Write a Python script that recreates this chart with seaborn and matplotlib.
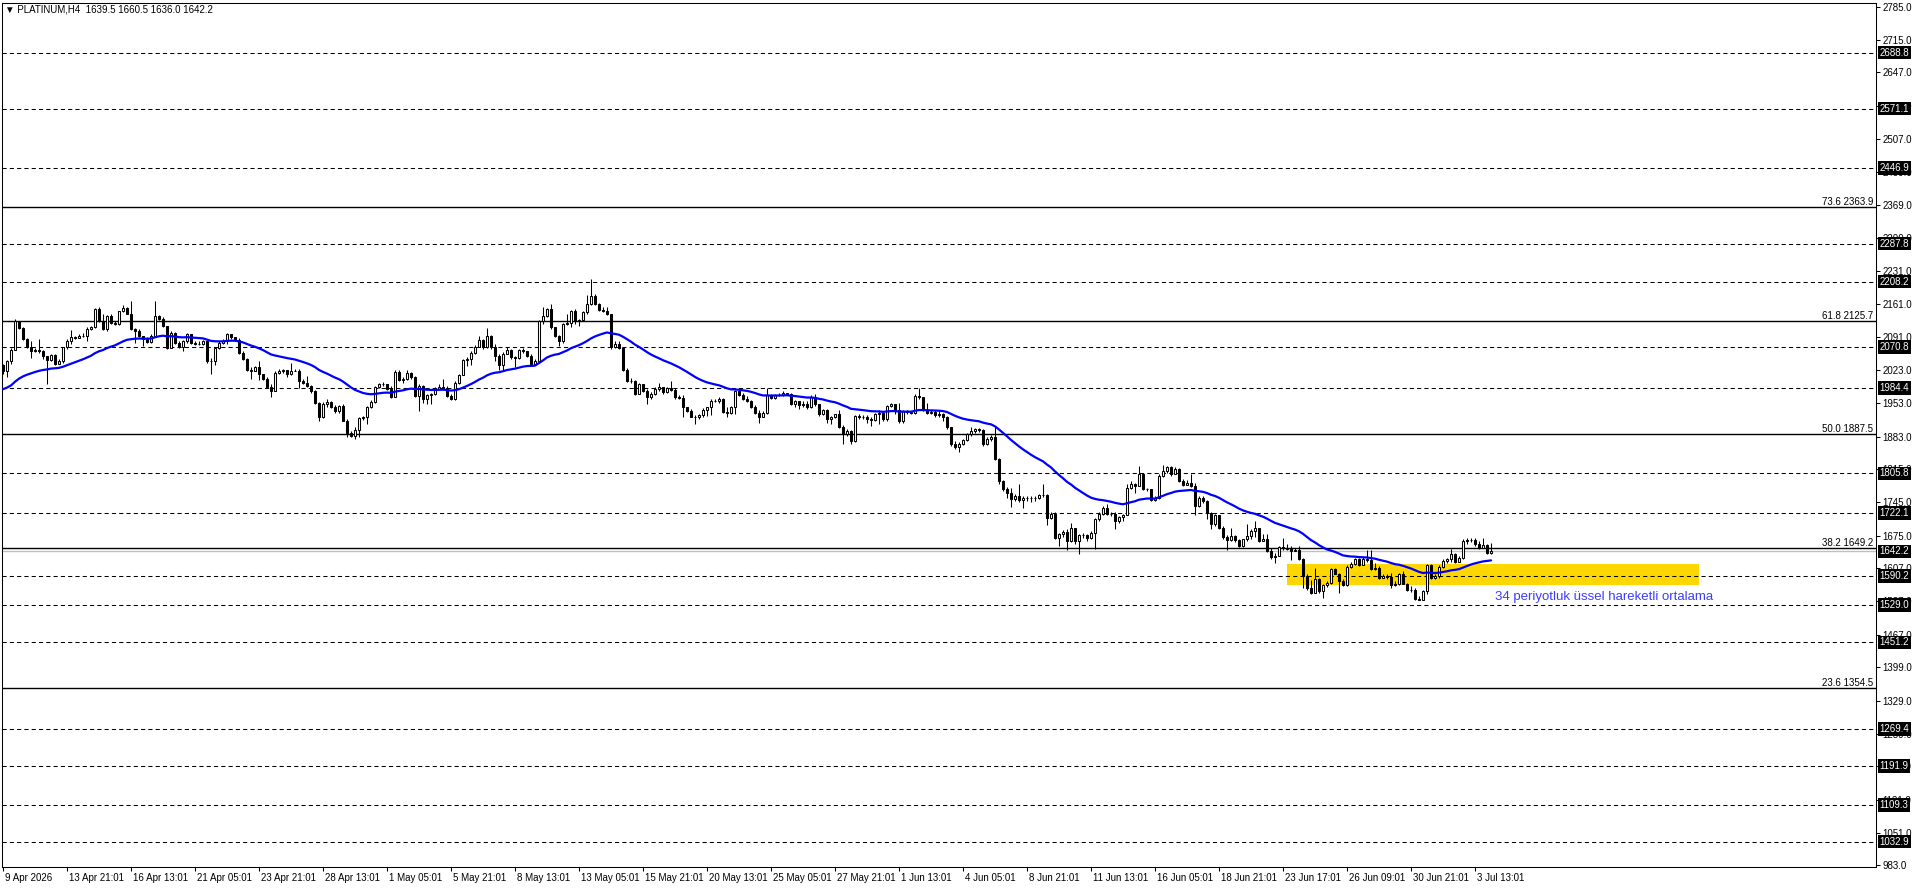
import numpy as np
import pandas as pd
import matplotlib
matplotlib.use("Agg")
import matplotlib.pyplot as plt
import matplotlib.transforms as mtransforms
from matplotlib.patches import Rectangle
import seaborn as sns

# ---------------- data ----------------
symbol = "PLATINUM"
timeframe = "H4"
first_open = 2033.0

close = [
    2021, 2041, 2065, 2126, 2111, 2088, 2071, 2063, 2064, 2062,
    2052, 2043, 2055, 2036, 2042, 2070, 2084, 2091, 2090, 2094,
    2094, 2108, 2113, 2150, 2126, 2108, 2135, 2122, 2119, 2146,
    2153, 2141, 2108, 2105, 2094, 2088, 2082, 2094, 2136, 2129,
    2115, 2069, 2101, 2080, 2070, 2084, 2098, 2080, 2077, 2078,
    2083, 2041, 2042, 2069, 2080, 2084, 2098, 2091, 2085, 2059,
    2045, 2022, 2021, 2028, 2014, 2003, 1987, 1978, 2017, 2021,
    2023, 2015, 2021, 2020, 2000, 1996, 1989, 1978, 1954, 1924,
    1951, 1956, 1944, 1936, 1948, 1916, 1891, 1884, 1896, 1922,
    1923, 1944, 1956, 1986, 1993,
    1993, 1982, 1966, 2019, 2001, 2003, 2017, 2007, 1968, 1990,
    1962, 1971, 1972, 1982, 1986, 1985, 1968, 1962, 1996, 2013,
    2043, 2045, 2059, 2071, 2085, 2070, 2094, 2070, 2052, 2033,
    2057, 2064, 2049, 2048, 2064, 2063, 2052, 2035, 2042, 2125,
    2136, 2150, 2112, 2093, 2083, 2120, 2122, 2147, 2126, 2127,
    2145, 2161, 2178, 2161, 2148, 2146, 2140, 2070, 2078, 2069,
    2022, 2000, 1999, 1973, 1993, 1979, 1965, 1973, 1982, 1986,
    1976, 1985, 1980, 1965, 1964, 1944, 1937, 1924, 1923, 1929,
    1938, 1944, 1958, 1957, 1961, 1935, 1933, 1945, 1978, 1971,
    1962, 1958, 1945, 1933,
    1923, 1932, 1971, 1964, 1970, 1971, 1975, 1973, 1951, 1957,
    1950, 1952, 1944, 1966, 1951, 1930, 1938, 1920, 1924, 1930,
    1903, 1888, 1895, 1873, 1926, 1923, 1924, 1919, 1917, 1931,
    1933, 1920, 1947, 1951, 1938, 1916, 1936, 1934, 1933, 1968,
    1965, 1938, 1933, 1935, 1929, 1931, 1924, 1902, 1867, 1860,
    1868, 1875, 1888, 1894, 1898, 1896, 1867, 1877, 1882, 1835,
    1790, 1772, 1765, 1751, 1758, 1749, 1754, 1755, 1754, 1755,
    1761, 1760, 1713, 1721, 1671, 1678, 1682, 1664, 1691, 1663,
    1677, 1676, 1671, 1681, 1709, 1721, 1734, 1721, 1720, 1706,
    1714, 1719,
    1776, 1784, 1779, 1805, 1772, 1773, 1749, 1754, 1800, 1811,
    1819, 1804, 1815, 1790, 1782, 1786, 1779, 1737, 1755, 1747,
    1723, 1699, 1719, 1691, 1672, 1665, 1674, 1665, 1653, 1667,
    1675, 1685, 1691, 1664, 1667, 1643, 1630, 1632, 1651, 1649,
    1646, 1643, 1645, 1625, 1590, 1566, 1555, 1583, 1559, 1572,
    1576, 1604, 1595, 1580, 1571, 1609, 1616, 1625, 1614, 1625,
    1623, 1604, 1607, 1587, 1590, 1588, 1571, 1574, 1595, 1574,
    1562, 1560, 1543, 1541, 1558, 1614, 1587, 1591, 1609, 1621,
    1625, 1636, 1620, 1628, 1664, 1665, 1666, 1657, 1650, 1656,
    1639.5, 1642.2,
]

high = [
    2035, 2043, 2069, 2130, 2126, 2113, 2089, 2083, 2069, 2087,
    2064, 2048, 2056, 2056, 2045, 2071, 2087, 2106, 2094, 2098,
    2101, 2113, 2115, 2153, 2154, 2140, 2138, 2140, 2126, 2147,
    2159, 2154, 2168, 2111, 2108, 2094, 2092, 2098, 2168, 2138,
    2133, 2115, 2105, 2103, 2084, 2085, 2101, 2099, 2084, 2084,
    2085, 2084, 2048, 2071, 2083, 2087, 2101, 2099, 2092, 2089,
    2063, 2048, 2029, 2031, 2042, 2015, 2007, 1993, 2020, 2024,
    2025, 2022, 2038, 2024, 2024, 2003, 2011, 1991, 1980, 1956,
    1955, 1962, 1958, 1949, 1950, 1951, 1919, 1895, 1902, 1924,
    1926, 1948, 1959, 1990, 1996,
    1998, 1994, 1990, 2022, 2022, 2007, 2022, 2019, 2010, 1993,
    1992, 1973, 1975, 1986, 1994, 2003, 1990, 1973, 1999, 2015,
    2045, 2049, 2063, 2076, 2094, 2087, 2111, 2097, 2077, 2056,
    2060, 2071, 2066, 2052, 2066, 2069, 2060, 2057, 2045, 2127,
    2154, 2153, 2162, 2113, 2097, 2122, 2140, 2148, 2150, 2129,
    2147, 2181, 2213, 2182, 2164, 2155, 2155, 2141, 2083, 2083,
    2071, 2026, 2006, 2001, 1996, 1994, 1982, 1976, 1986, 1996,
    1987, 1987, 2000, 1985, 1971, 1971, 1945, 1940, 1929, 1931,
    1943, 1945, 1961, 1961, 1966, 1963, 1945, 1948, 1980, 1978,
    1975, 1968, 1959, 1949,
    1938, 1937, 1985, 1972, 1973, 1975, 1979, 1975, 1975, 1959,
    1958, 1957, 1958, 1971, 1973, 1952, 1940, 1940, 1926, 1931,
    1938, 1908, 1898, 1896, 1929, 1930, 1929, 1929, 1924, 1933,
    1938, 1934, 1950, 1953, 1952, 1954, 1938, 1938, 1937, 1972,
    1985, 1966, 1954, 1938, 1938, 1936, 1933, 1926, 1903, 1873,
    1871, 1878, 1891, 1902, 1901, 1901, 1898, 1881, 1887, 1902,
    1838, 1791, 1777, 1776, 1762, 1783, 1758, 1759, 1758, 1758,
    1763, 1783, 1762, 1724, 1724, 1681, 1686, 1688, 1702, 1688,
    1679, 1681, 1678, 1684, 1713, 1724, 1737, 1742, 1724, 1724,
    1717, 1721,
    1783, 1789, 1786, 1821, 1807, 1776, 1772, 1758, 1804, 1823,
    1822, 1821, 1819, 1818, 1793, 1791, 1805, 1786, 1758, 1758,
    1749, 1725, 1721, 1705, 1695, 1676, 1691, 1677, 1668, 1669,
    1700, 1688, 1706, 1692, 1678, 1679, 1649, 1639, 1653, 1670,
    1657, 1653, 1650, 1653, 1628, 1594, 1581, 1608, 1586, 1574,
    1580, 1608, 1607, 1597, 1583, 1614, 1619, 1629, 1628, 1630,
    1644, 1644, 1618, 1611, 1595, 1595, 1597, 1580, 1597, 1600,
    1576, 1569, 1565, 1548, 1560, 1616, 1616, 1594, 1614, 1625,
    1629, 1646, 1639, 1632, 1668, 1670, 1671, 1670, 1663, 1671,
    1658, 1660.5,
]

low = [
    2014, 2007, 2035, 2065, 2108, 2085, 2069, 2048, 2060, 2059,
    2045, 1994, 2042, 2034, 2035, 2038, 2067, 2078, 2087, 2089,
    2091, 2084, 2106, 2111, 2124, 2106, 2105, 2120, 2117, 2118,
    2144, 2140, 2106, 2080, 2092, 2073, 2080, 2080, 2092, 2127,
    2113, 2067, 2069, 2078, 2068, 2062, 2080, 2078, 2075, 2076,
    2076, 2038, 2014, 2034, 2066, 2077, 2078, 2087, 2083, 2057,
    2043, 2020, 2003, 2020, 2001, 2001, 1986, 1965, 1978, 2015,
    2017, 2007, 2013, 2020, 1985, 1994, 1987, 1975, 1952, 1915,
    1922, 1944, 1943, 1933, 1933, 1915, 1881, 1882, 1877, 1881,
    1917, 1909, 1943, 1954, 1985,
    1989, 1980, 1964, 1966, 1999, 1996, 2002, 2004, 1966, 1937,
    1954, 1952, 1952, 1971, 1982, 1982, 1966, 1959, 1959, 1994,
    2013, 2031, 2034, 2056, 2071, 2066, 2069, 2066, 2041, 2022,
    2022, 2056, 2045, 2028, 2045, 2059, 2050, 2031, 2034, 2038,
    2119, 2134, 2108, 2091, 2073, 2080, 2118, 2113, 2120, 2115,
    2126, 2141, 2158, 2158, 2146, 2144, 2138, 2066, 2069, 2066,
    2020, 1997, 1996, 1971, 1973, 1976, 1952, 1962, 1971, 1978,
    1973, 1975, 1978, 1962, 1961, 1923, 1934, 1923, 1909, 1919,
    1925, 1927, 1929, 1955, 1953, 1933, 1923, 1930, 1930, 1968,
    1959, 1956, 1943, 1931,
    1912, 1929, 1931, 1961, 1962, 1968, 1969, 1971, 1949, 1945,
    1940, 1944, 1940, 1943, 1948, 1927, 1929, 1912, 1909, 1922,
    1901, 1867, 1885, 1868, 1871, 1919, 1919, 1912, 1906, 1915,
    1910, 1916, 1915, 1944, 1930, 1912, 1912, 1930, 1930, 1931,
    1962, 1936, 1930, 1930, 1924, 1923, 1916, 1899, 1864, 1857,
    1850, 1866, 1873, 1885, 1891, 1892, 1864, 1866, 1873, 1833,
    1783, 1769, 1755, 1735, 1747, 1745, 1734, 1748, 1745, 1747,
    1752, 1756, 1698, 1710, 1667, 1653, 1672, 1644, 1661, 1657,
    1637, 1671, 1664, 1667, 1647, 1706, 1719, 1719, 1716, 1689,
    1702, 1705,
    1749, 1772, 1765, 1779, 1770, 1769, 1747, 1748, 1751, 1798,
    1807, 1801, 1807, 1787, 1779, 1783, 1777, 1718, 1735, 1744,
    1709, 1690, 1696, 1688, 1669, 1644, 1664, 1662, 1651, 1651,
    1664, 1669, 1672, 1661, 1664, 1640, 1627, 1618, 1632, 1645,
    1644, 1623, 1643, 1623, 1566, 1562, 1553, 1555, 1555, 1545,
    1567, 1574, 1594, 1555, 1569, 1570, 1607, 1614, 1611, 1623,
    1620, 1602, 1602, 1585, 1587, 1585, 1566, 1569, 1572, 1573,
    1559, 1557, 1540, 1539, 1545, 1553, 1584, 1583, 1586, 1608,
    1618, 1620, 1618, 1623, 1627, 1658, 1662, 1654, 1648, 1651,
    1637, 1636,
]

ema_period = 34
ema_seed = 1980.0

xtick_bars = [0, 16, 32, 48, 64, 80, 96, 112, 128, 144, 160, 176,
              192, 208, 224, 240, 256, 272, 288, 304, 320, 336, 352, 368]
xtick_labels = ["9 Apr 2026", "13 Apr 21:01", "16 Apr 13:01", "21 Apr 05:01",
                "23 Apr 21:01", "28 Apr 13:01", "1 May 05:01", "5 May 21:01",
                "8 May 13:01", "13 May 05:01", "15 May 21:01", "20 May 13:01",
                "25 May 05:01", "27 May 21:01", "1 Jun 13:01", "4 Jun 05:01",
                "8 Jun 21:01", "11 Jun 13:01", "16 Jun 05:01", "18 Jun 21:01",
                "23 Jun 17:01", "26 Jun 09:01", "30 Jun 21:01", "3 Jul 13:01"]

ytick_values = [2785.0, 2715.0, 2647.0, 2577.0, 2507.0, 2439.0, 2369.0, 2299.0,
                2231.0, 2161.0, 2091.0, 2023.0, 1953.0, 1883.0, 1815.0, 1745.0,
                1675.0, 1607.0, 1537.0, 1467.0, 1399.0, 1329.0, 1259.0, 1191.0,
                1121.0, 1051.0, 983.0]

dashed_levels = [2688.8, 2571.1, 2446.9, 2287.8, 2208.2, 2070.8, 1984.4, 1805.8,
                 1722.1, 1590.2, 1529.0, 1451.2, 1269.4, 1191.9, 1109.3, 1032.9]
fib_ratios = [73.6, 61.8, 50.0, 38.2, 23.6]
fib_levels = [2363.9, 2125.7, 1887.5, 1649.2, 1354.5]
bid_price = 1642.2

zone_bar_start, zone_bar_end = 321, 424
zone_low, zone_high = 1571.4, 1615.4
ema_note = "34 periyotluk üssel hareketli ortalama"
ema_note_bar, ema_note_price = 373, 1546

y_min, y_max = 980.3, 2793.4
x_min, x_max = -0.25, 468.25

# ---------------- figure ----------------
sns.set_theme(style="white")
plt.rcParams["font.family"] = ["Liberation Sans", "DejaVu Sans"]
plt.rcParams["axes.linewidth"] = 0.75

W, H = 1916, 888
fig = plt.figure(figsize=(W / 100, H / 100), dpi=100)
fig.patch.set_facecolor("white")
ax = fig.add_axes([2 / W, (H - 866.7) / H, 1874 / W, 864 / H])
ax.set_facecolor("white")

c = np.asarray(close, dtype=float)
o = np.r_[first_open, c[:-1]]
h = np.maximum.reduce([np.asarray(high, float), o, c])
l = np.minimum.reduce([np.asarray(low, float), o, c])
x = np.arange(len(c))
up = c >= o

df = pd.DataFrame({"bar": x, "close": c})
df["ema"] = pd.Series(np.r_[ema_seed, c]).ewm(span=ema_period, adjust=False).mean().values[1:]

# background zone
ax.add_patch(Rectangle((zone_bar_start, zone_low), zone_bar_end - zone_bar_start,
                       zone_high - zone_low, facecolor="#FFD700", edgecolor="none", zorder=0.5))

# level lines
for lv in dashed_levels:
    ax.axhline(lv, color="black", lw=0.75, ls=(0, (4, 3)), zorder=1)
for lv in fib_levels:
    ax.axhline(lv, color="black", lw=1.0, zorder=1)
ax.axhline(bid_price, color="#c0c0c0", lw=1.0, zorder=1)

# candles
ax.vlines(x, l, h, color="black", lw=0.75, zorder=3)
ax.bar(x[up], (c - o)[up], bottom=o[up], width=0.55, color="white",
       edgecolor="black", linewidth=0.75, zorder=4)
ax.bar(x[~up], (c - o)[~up], bottom=o[~up], width=0.55, color="black",
       edgecolor="black", linewidth=0.75, zorder=4)

# EMA
sns.lineplot(data=df, x="bar", y="ema", color="#0000ff", lw=1.6, ax=ax, zorder=5)

ax.set_xlim(x_min, x_max)
ax.set_ylim(y_min, y_max)
ax.set_xlabel("")
ax.set_ylabel("")

# axes styling
for sp in ax.spines.values():
    sp.set_color("black")
    sp.set_linewidth(0.75)
    sp.set_visible(True)

ax.yaxis.tick_right()
ax.set_yticks(ytick_values)
ax.set_yticklabels([f"{v:.1f}" for v in ytick_values])
ax.tick_params(axis="y", which="both", right=True, left=False, direction="out",
               length=3, width=0.75, pad=1.5, labelsize=7, colors="black")
ax.set_xticks(xtick_bars)
ax.set_xticklabels(xtick_labels)
ax.tick_params(axis="x", which="both", bottom=True, direction="out",
               length=3, width=0.75, pad=1.5, labelsize=7, colors="black")
shift = mtransforms.ScaledTranslation(2 / 100, 0, fig.dpi_scale_trans)
for lbl in ax.get_xticklabels():
    lbl.set_horizontalalignment("left")
    lbl.set_transform(lbl.get_transform() + shift)
ax.grid(False)

blend = mtransforms.blended_transform_factory(ax.transAxes, ax.transData)

# price boxes on the right axis
for lv in dashed_levels + [bid_price]:
    ax.text(1.0 + 3.5 / 1874, lv, f"{lv:.1f}", transform=blend, ha="left", va="center",
            fontsize=7, color="white", zorder=10, clip_on=False,
            bbox=dict(boxstyle="square,pad=0.18", facecolor="black", edgecolor="none"))

# fibo labels
for r, lv in zip(fib_ratios, fib_levels):
    ax.text(1.0 - 3 / 1874, lv, f"{r:.1f} {lv:.1f}", transform=blend, ha="right",
            va="bottom", fontsize=7, color="black", zorder=6)

# EMA note
ax.text(ema_note_bar, ema_note_price, ema_note, color="#3c3cff", fontsize=9.5,
        ha="left", va="center", zorder=6)

# header
hdr = f"{symbol},{timeframe}  {o[-1]:.1f} {h[-1]:.1f} {l[-1]:.1f} {c[-1]:.1f}"
ax.text(3 / 1874, 1 - 7 / 864, "\u25BC " + hdr, transform=ax.transAxes, ha="left",
        va="center", fontsize=7, color="black", zorder=10)

fig.savefig("out.png", dpi=100, facecolor="white")
